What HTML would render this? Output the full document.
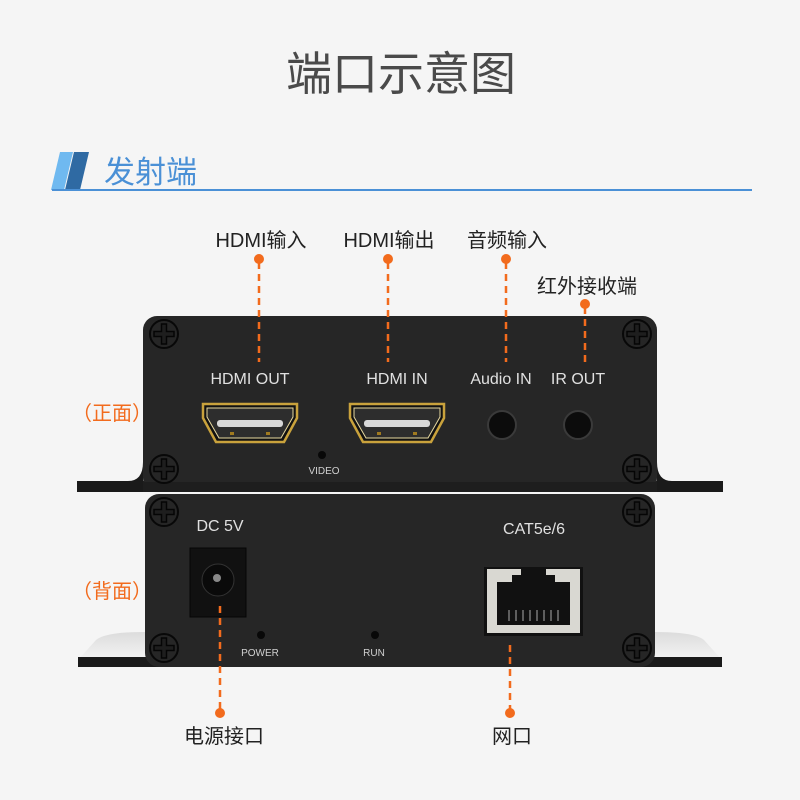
<!DOCTYPE html>
<html><head><meta charset="utf-8"><style>
html,body{margin:0;padding:0;background:#f5f5f5;width:800px;height:800px;overflow:hidden}
svg{display:block}
text{font-family:"Liberation Sans","Noto Sans CJK SC",sans-serif}
</style></head><body>
<svg width="800" height="800" viewBox="0 0 800 800" xmlns="http://www.w3.org/2000/svg">
<defs>
<g id="screw"><circle r="14" fill="#262626" stroke="#080808" stroke-width="2"/><path d="M-2.5,-10h5v7.5h7.5v5h-7.5v7.5h-5v-7.5h-7.5v-5h7.5z" fill="#1e1e1e" stroke="#050505" stroke-width="1.5"/></g>
<g id="hdmi">
<path d="M-47,-20 H47 V-6 L34,18 H-34 L-47,-6Z" fill="#111" stroke="#c9a23c" stroke-width="2.5"/>
<path d="M-43,-16 H43 V-7 L31,14 H-31 L-43,-7Z" fill="#2d2d2d" stroke="#e8d9a0" stroke-width="1"/>
<rect x="-33" y="-4" width="66" height="7" rx="3" fill="#d8d8d8"/>
<rect x="-20" y="8" width="4" height="3" fill="#a07a20"/><rect x="16" y="8" width="4" height="3" fill="#a07a20"/>
</g>
<linearGradient id="pl" x1="0" y1="0" x2="0" y2="1"><stop offset="0" stop-color="#dcdcdc"/><stop offset="1" stop-color="#fafafa"/></linearGradient>
</defs>
<text x="401" y="90" font-size="46" text-anchor="middle" fill="#4a4a4a">端口示意图</text>
<polygon points="60,152 73,152 64,190 51,190" fill="#6fb9f0"/>
<polygon points="74,152 89,152 80,190 65,190" fill="#2f6aa3"/>
<text x="104" y="183" font-size="31" fill="#4a90d6">发射端</text>
<rect x="52" y="189" width="700" height="2" fill="#4a90d6"/>

<path d="M77,481 H128 Q143,481 143,462 V492 H77Z" fill="#1a1a1a"/>
<path d="M723,481 H672 Q657,481 657,462 V492 H723Z" fill="#1a1a1a"/>
<rect x="77" y="481" width="646" height="11" fill="#1a1a1a"/>
<rect x="143" y="316" width="514" height="176" rx="14" fill="#262626"/>
<rect x="143" y="482" width="514" height="10" fill="#1e1e1e"/>
<path d="M78,660 L96,640 Q105,632 145,632 V667 H78Z" fill="url(#pl)"/>
<path d="M722,660 L704,640 Q695,632 655,632 V667 H722Z" fill="url(#pl)"/>
<rect x="78" y="657" width="644" height="10" fill="#1a1a1a"/>
<rect x="145" y="494" width="510" height="173" rx="14" fill="#262626"/>

<use href="#screw" x="164" y="334"/><use href="#screw" x="637" y="334"/>
<use href="#screw" x="164" y="469"/><use href="#screw" x="637" y="469"/>
<use href="#screw" x="164" y="512"/><use href="#screw" x="637" y="512"/>
<use href="#screw" x="164" y="648"/><use href="#screw" x="637" y="648"/>

<g fill="#e0e0e0" font-size="16" text-anchor="middle">
<text x="250" y="384">HDMI OUT</text><text x="397" y="384">HDMI IN</text>
<text x="501" y="384">Audio IN</text><text x="578" y="384">IR OUT</text>
<text x="220" y="531">DC 5V</text><text x="534" y="534">CAT5e/6</text>
</g>
<g fill="#d0d0d0" font-size="10" text-anchor="middle">
<text x="324" y="474">VIDEO</text><text x="260" y="656">POWER</text><text x="374" y="656">RUN</text>
</g>
<use href="#hdmi" x="250" y="424"/><use href="#hdmi" x="397" y="424"/>
<circle cx="502" cy="425" r="14" fill="#0c0c0c" stroke="#3a3a3a" stroke-width="2"/>
<circle cx="578" cy="425" r="14" fill="#0c0c0c" stroke="#3a3a3a" stroke-width="2"/>
<circle cx="322" cy="455" r="4" fill="#080808"/>
<circle cx="261" cy="635" r="4" fill="#080808"/><circle cx="375" cy="635" r="4" fill="#080808"/>
<rect x="190" y="548" width="56" height="69" fill="#111" stroke="#050505"/>
<circle cx="218" cy="580" r="16" fill="#0a0a0a" stroke="#333" stroke-width="1"/>
<circle cx="217" cy="578" r="4" fill="#888"/>
<rect x="484" y="567" width="99" height="69" fill="#111"/>
<path d="M487,569 H580 V633 H487Z M497,582 V625 H570 V582 H555 V575 H546 V569 H521 V575 H512 V582Z" fill="#d9d8d2" fill-rule="evenodd"/>
<g stroke="#aaa" stroke-width="1">
<line x1="509" y1="610" x2="509" y2="621"/><line x1="516" y1="610" x2="516" y2="621"/><line x1="523" y1="610" x2="523" y2="621"/><line x1="530" y1="610" x2="530" y2="621"/><line x1="537" y1="610" x2="537" y2="621"/><line x1="544" y1="610" x2="544" y2="621"/><line x1="551" y1="610" x2="551" y2="621"/><line x1="558" y1="610" x2="558" y2="621"/>
</g>

<g font-size="20" fill="#222" text-anchor="middle">
<text x="261" y="247">HDMI输入</text><text x="389" y="247">HDMI输出</text>
<text x="507" y="247">音频输入</text><text x="587" y="293">红外接收端</text>
<text x="224" y="743">电源接口</text><text x="512" y="743">网口</text>
</g>
<g fill="#f26b1d" font-size="20">
<text x="72" y="420">（正面）</text><text x="72" y="598">（背面）</text>
</g>
<g stroke="#f26b1d" stroke-width="2.5" stroke-dasharray="7,5" fill="none">
<line x1="259" y1="262" x2="259" y2="362"/><line x1="388" y1="262" x2="388" y2="362"/>
<line x1="506" y1="262" x2="506" y2="362"/><line x1="585" y1="307" x2="585" y2="362"/>
<line x1="220" y1="606" x2="220" y2="710"/><line x1="510" y1="645" x2="510" y2="710"/>
</g>
<g fill="#f26b1d">
<circle cx="259" cy="259" r="5"/><circle cx="388" cy="259" r="5"/><circle cx="506" cy="259" r="5"/>
<circle cx="585" cy="304" r="5"/><circle cx="220" cy="713" r="5"/><circle cx="510" cy="713" r="5"/>
</g>
</svg>
</body></html>
